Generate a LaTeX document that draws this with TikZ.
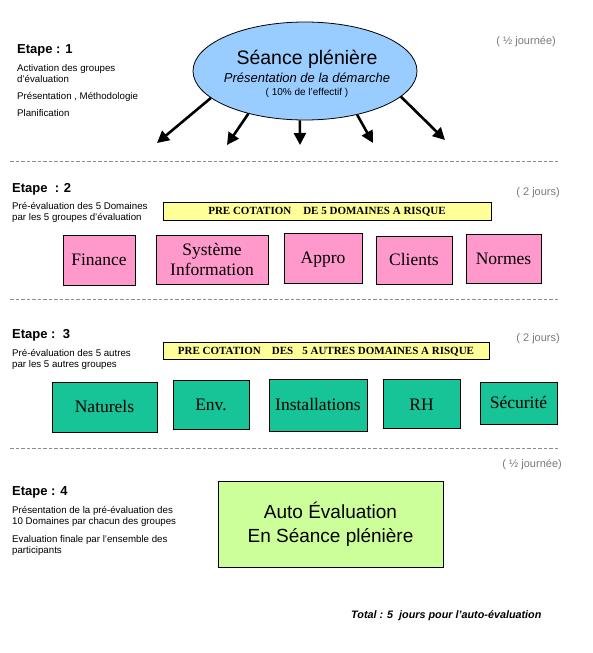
\documentclass[tikz,border=0pt]{standalone}
\usepackage{fontspec}
\setmainfont{Liberation Sans}
\newfontfamily\tms{Liberation Serif}
\usetikzlibrary{shapes.geometric,arrows.meta}
\definecolor{ellblue}{HTML}{99CCFF}
\definecolor{pinkbox}{HTML}{FF99CC}
\definecolor{tealbox}{HTML}{17C497}
\definecolor{greenbox}{HTML}{CCFF99}
\definecolor{yellowbar}{HTML}{FFFF99}
\definecolor{graytxt}{HTML}{7A7A7A}
\definecolor{dashgray}{HTML}{8C8C8C}
\tikzset{
  domainbox/.style={draw=black, line width=0.8pt, inner sep=0pt, align=center,
    font=\tms\fontsize{17.5}{19.5}\selectfont},
  oneline/.style={text height=11.6pt, text depth=0pt},
  pinkb/.style={domainbox, fill=pinkbox},
  tealb/.style={domainbox, fill=tealbox},
  yellowb/.style={draw=black, line width=0.8pt, fill=yellowbar, inner sep=0pt,
    text height=7.3pt, text depth=0pt,
    font=\tms\bfseries\fontsize{11}{13}\selectfont},
  stagetitle/.style={anchor=base west, inner sep=0pt, font=\bfseries\fontsize{13}{15}\selectfont},
  stagetext/.style={anchor=base west, inner sep=0pt, font=\fontsize{9.7}{11}\selectfont},
  duration/.style={anchor=base east, inner sep=0pt, text=graytxt, font=\fontsize{11}{13}\selectfont},
  separator/.style={draw=dashgray, line width=0.8pt, dash pattern=on 3.5pt off 2pt},
  bigarrow/.style={line width=2.6pt, -{Triangle[length=12pt,width=12pt]}},
}
\begin{document}
\begin{tikzpicture}[x=1pt,y=-1pt]
\useasboundingbox[fill=white] (0,0) rectangle (592,653);

% ---------- Etape 1 ----------
\node[stagetitle] (e1) at (17,53) {Etape : 1};
\node[stagetext] (e1a) at (17,71) {Activation des groupes};
\node[stagetext] (e1b) at (17,82) {d'évaluation};
\node[stagetext] (e1c) at (17,99) {Présentation , Méthodologie};
\node[stagetext] (e1d) at (17,116) {Planification};
\node[duration] (d1) at (556,44) {( ½ journée)};

\node[ellipse, draw=black, line width=0.8pt, fill=ellblue, minimum width=224, minimum height=98, inner sep=0pt] (sp) at (305,71) {};
\node[anchor=base, inner sep=0pt, font=\fontsize{19.5}{22}\selectfont] (spt) at (307,64) {Séance plénière};
\node[anchor=base, inner sep=0pt, font=\itshape\fontsize{13}{15}\selectfont] (sps) at (307,82) {Présentation de la démarche};
\node[anchor=base, inner sep=0pt, font=\fontsize{10}{12}\selectfont] (spe) at (307,95) {( 10\% de l'effectif )};

\coordinate (t1) at (157,143);
\coordinate (t2) at (227,145);
\coordinate (t3) at (300,145);
\coordinate (t4) at (373,143);
\coordinate (t5) at (445,140);
\draw[bigarrow] (sp.196) -- (t1);
\draw[bigarrow] (sp.217) -- (t2);
\draw[bigarrow] (sp.264) -- (t3);
\draw[bigarrow] (sp.320) -- (t4);
\draw[bigarrow] (sp.345) -- (t5);

\draw[separator] (10,161) -- (558,161);

% ---------- Etape 2 ----------
\node[stagetitle] (e2) at (12,192) {Etape\ \ : 2};
\node[stagetext] (e2a) at (12,209) {Pré-évaluation des 5 Domaines};
\node[stagetext] (e2b) at (12,220) {par les 5 groupes d'évaluation};
\node[duration] (d2) at (560,195) {( 2 jours)};

\node[yellowb, minimum width=328, minimum height=18] (y1) at (327,211) {PRE COTATION\hspace{12pt}DE 5 DOMAINES A RISQUE};

\node[pinkb, oneline, minimum width=72, minimum height=50] (fin) at (99,260) {Finance};
\node[pinkb, minimum width=112, minimum height=49] (sys) at (212,259.5) {Système\\Information};
\node[pinkb, oneline, minimum width=78, minimum height=50] (app) at (323,258) {Appro};
\node[pinkb, oneline, minimum width=76, minimum height=48] (cli) at (414,260) {Clients};
\node[pinkb, oneline, minimum width=75, minimum height=49] (nor) at (503.5,258.5) {Normes};

\draw[separator] (10,299) -- (558,299);

% ---------- Etape 3 ----------
\node[stagetitle] (e3) at (12,338) {Etape :\ \ 3};
\node[stagetext] (e3a) at (12,356) {Pré-évaluation des 5 autres};
\node[stagetext] (e3b) at (12,367) {par les 5 autres groupes};
\node[duration] (d3) at (560,341) {( 2 jours)};

\node[yellowb, minimum width=326, minimum height=17] (y2) at (326,350.5) {PRE COTATION\hspace{11pt}DES\hspace{9pt}5 AUTRES DOMAINES A RISQUE};

\node[tealb, oneline, minimum width=105, minimum height=50] (nat) at (104.5,407) {Naturels};
\node[tealb, oneline, minimum width=76, minimum height=49] (env) at (211,404.5) {Env.};
\node[tealb, oneline, minimum width=98, minimum height=52] (ins) at (318,405) {Installations};
\node[tealb, minimum width=77, minimum height=49, text height=14.6pt, text depth=0pt] (rh) at (421.5,403.5) {RH};
\node[tealb, oneline, minimum width=77, minimum height=42] (sec) at (518.5,403) {Sécurité};

\draw[separator] (10,448) -- (558,448);

% ---------- Etape 4 ----------
\node[duration] (d4) at (562,467) {( ½ journée)};
\node[stagetitle] (e4) at (12,495) {Etape : 4};
\node[stagetext] (e4a) at (12,513) {Présentation de la pré-évaluation des};
\node[stagetext] (e4b) at (12,524) {10 Domaines par chacun des groupes};
\node[stagetext] (e4c) at (12,542) {Evaluation finale par l'ensemble des};
\node[stagetext] (e4d) at (12,553) {participants};

\node[draw=black, line width=0.8pt, fill=greenbox, minimum width=225, minimum height=86, inner sep=0pt, align=center, font=\fontsize{19}{24}\selectfont] (ae) at (330.5,524) {Auto Évaluation\\En Séance plénière};

\node[anchor=base west, inner sep=0pt, font=\bfseries\itshape\fontsize{10.8}{13}\selectfont] (tot) at (351,618) {Total : 5\ \ jours pour l'auto-évaluation};
\end{tikzpicture}
\end{document}
